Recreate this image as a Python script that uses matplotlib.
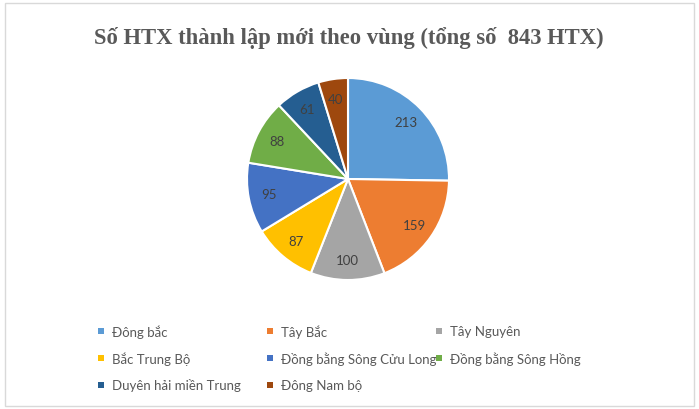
import matplotlib
matplotlib.use("Agg")
import matplotlib.pyplot as plt
from matplotlib.patches import Rectangle

title = "Số HTX thành lập mới theo vùng (tổng số  843 HTX)"
regions = ["Đông bắc", "Tây Bắc", "Tây Nguyên", "Bắc Trung Bộ",
           "Đồng bằng Sông Cửu Long", "Đồng bằng Sông Hồng",
           "Duyên hải miền Trung", "Đông Nam bộ"]
counts = [213, 159, 100, 87, 95, 88, 61, 40]
colors = ["#5B9BD5", "#ED7D31", "#A5A5A5", "#FFC000",
          "#4472C4", "#70AD47", "#255E91", "#9E480E"]

W, H = 699, 410
fig = plt.figure(figsize=(W / 100, H / 100), dpi=100)
fig.patch.set_facecolor("white")

# chart border
fig.add_artist(Rectangle((5 / W, 3 / H), 689 / W, 403 / H, transform=fig.transFigure,
                         fill=False, edgecolor="#D9D9D9", linewidth=1))

fam = ["Lato", "Noto Sans", "DejaVu Sans"]

cx, cy, r = 348, 180, 101
ax = fig.add_axes([(cx - r) / W, (H - cy - r) / H, 2 * r / W, 2 * r / H])
wedges, texts = ax.pie(counts, colors=colors, startangle=90, counterclock=False,
                       labels=[str(c) for c in counts], labeldistance=0.8,
                       wedgeprops=dict(edgecolor="white", linewidth=1.5),
                       textprops=dict(color="#404040", fontsize=9.5, family=fam))
for t in texts:
    t.set_ha("center")
    t.set_va("center")
ax.set_aspect("equal")
ax.set_xlim(-1, 1)
ax.set_ylim(-1, 1)

fig.text(349 / W, 1 - 44 / H, title, ha="center", va="baseline",
         family=["Liberation Serif", "DejaVu Serif"], fontweight="bold",
         fontsize=16.3, color="#595959")

# legend, row-major, 3 columns
col_x = [101, 270, 439]
row_y = [332, 359, 386]
sq = 6
for i, (name, col) in enumerate(zip(regions, colors)):
    rr, cc = divmod(i, 3)
    x, y = col_x[cc], row_y[rr]
    fig.add_artist(Rectangle(((x - sq / 2) / W, (H - y - sq / 2) / H), sq / W, sq / H,
                             transform=fig.transFigure, facecolor=col, edgecolor="none"))
    fig.text((x + 11) / W, 1 - y / H, name, ha="left", va="center",
             family=fam, fontsize=9.5, color="#595959")

fig.savefig("out.png", dpi=100, facecolor="white")
